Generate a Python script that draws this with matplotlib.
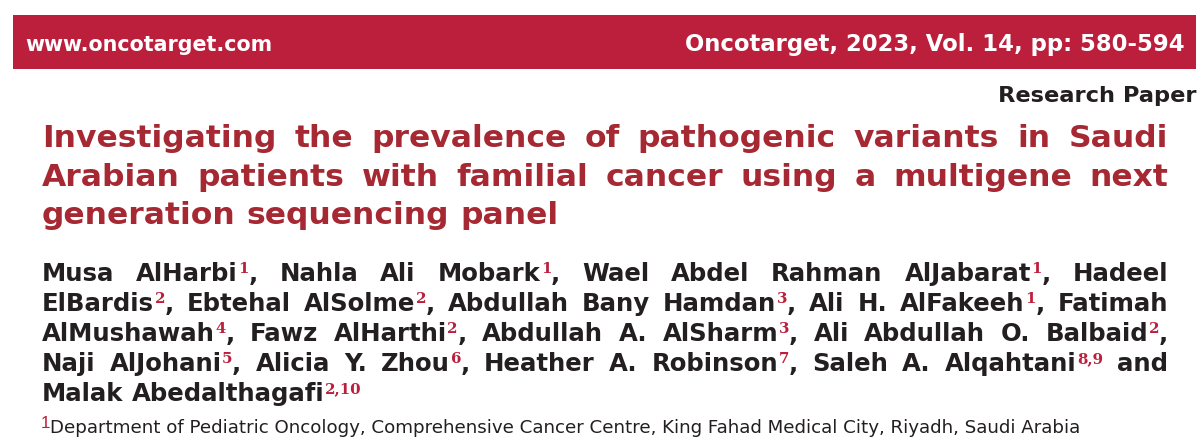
import re
import matplotlib
matplotlib.use("Agg")
import matplotlib.pyplot as plt
from matplotlib.patches import Rectangle

W, H = 1200, 442
BANNER_LEFT = "www.oncotarget.com"
BANNER_RIGHT = "Oncotarget, 2023, Vol. 14, pp: 580-594"
PAPER_TYPE = "Research Paper"
TITLE_LINES = [
    "Investigating the prevalence of pathogenic variants in Saudi",
    "Arabian patients with familial cancer using a multigene next",
    "generation sequencing panel",
]
AUTHOR_LINES = [
    "Musa AlHarbi^1^, Nahla Ali Mobark^1^, Wael Abdel Rahman AlJabarat^1^, Hadeel",
    "ElBardis^2^, Ebtehal AlSolme^2^, Abdullah Bany Hamdan^3^, Ali H. AlFakeeh^1^, Fatimah",
    "AlMushawah^4^, Fawz AlHarthi^2^, Abdullah A. AlSharm^3^, Ali Abdullah O. Balbaid^2^,",
    "Naji AlJohani^5^, Alicia Y. Zhou^6^, Heather A. Robinson^7^, Saleh A. Alqahtani^8,9^ and",
    "Malak Abedalthagafi^2,10^",
]
AFFIL_NUM = "1"
AFFIL = "Department of Pediatric Oncology, Comprehensive Cancer Centre, King Fahad Medical City, Riyadh, Saudi Arabia"

RED = "#BB1F3C"
TITLE_RED = "#A62833"
INK = "#231F20"
px = 72 / 100

fig = plt.figure(figsize=(W / 100, H / 100), dpi=100)
ax = fig.add_axes([0, 0, 1, 1])
ax.set_xlim(0, W)
ax.set_ylim(H, 0)
ax.axis("off")
rend = fig.canvas.get_renderer()


def width(s, **kw):
    t = ax.text(0, 0, s.replace(" ", "\u00a0"), **kw)
    w = t.get_window_extent(rend).width
    t.remove()
    return w


MAIN = dict(family="DejaVu Sans", fontweight="bold")
SUP = dict(family="DejaVu Serif", fontweight="bold", color=RED, fontsize=15 * px)


def justified(line, y, left, right, size, color, justify=True):
    parts = re.split(r"\^", line)
    runs = []
    for i, p in enumerate(parts):
        if p:
            runs.append((p, i % 2 == 1))
    main = dict(MAIN, fontsize=size, color=color)
    items = []
    for text, is_sup in runs:
        if is_sup:
            items.append(("sup", text))
        else:
            for tok in re.split(r"( )", text):
                if tok == " ":
                    items.append(("space", tok))
                elif tok:
                    items.append(("word", tok))
    sizes = []
    for kind, text in items:
        if kind == "sup":
            sizes.append(width(text, **SUP))
        elif kind == "word":
            sizes.append(width(text, **main))
        else:
            sizes.append(width(" ", **main))
    n_space = sum(1 for k, _ in items if k == "space")
    extra = (right - left - sum(sizes)) / n_space if (justify and n_space) else 0
    x = left
    for (kind, text), w in zip(items, sizes):
        if kind == "sup":
            ax.text(x + 0.5, y - 8, text, va="baseline", ha="left", **SUP)
        elif kind == "word":
            ax.text(x, y, text, va="baseline", ha="left", **main)
        else:
            w += extra
        x += w


ax.add_patch(Rectangle((13, 15), 1183, 54, facecolor=RED, edgecolor="none"))
ax.text(25, 51, BANNER_LEFT, color="white", fontsize=20.6 * px, va="baseline", ha="left", **MAIN)
ax.text(1185, 51, BANNER_RIGHT, color="white", fontsize=22.7 * px, va="baseline", ha="right", **MAIN)
ax.text(1196, 102, PAPER_TYPE, color=INK, fontsize=22.5 * px, va="baseline", ha="right", **MAIN)

for i, (line, y) in enumerate(zip(TITLE_LINES, [147, 186, 224])):
    justified(line, y, 42, 1168, 31.4 * px, TITLE_RED, justify=i < 2)

for i, (line, y) in enumerate(zip(AUTHOR_LINES, [281, 311, 341, 371, 401])):
    justified(line, y, 42, 1168, 24.4 * px, INK, justify=i < 4)

ax.text(40.5, 428, AFFIL_NUM, color=RED, fontsize=17 * px, family="Liberation Sans", va="baseline", ha="left")
ax.text(50, 433, AFFIL, color=INK, fontsize=18.3 * px, family="DejaVu Sans", va="baseline", ha="left")

fig.savefig("out.png", dpi=100)
